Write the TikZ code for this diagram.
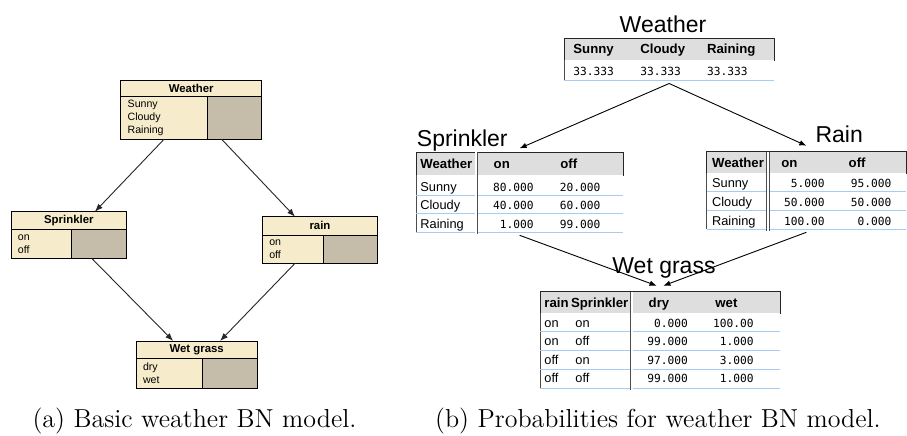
\documentclass[tikz,border=0pt]{standalone}
\usepackage{fontspec}
\newfontfamily\dsans{Liberation Sans}
\newfontfamily\dmono{DejaVu Sans Mono}
\usetikzlibrary{arrows.meta}
\definecolor{bncream}{RGB}{246,236,204}
\definecolor{bngray}{RGB}{197,188,170}
\definecolor{cpthdr}{RGB}{222,222,222}
\definecolor{cptblue}{RGB}{168,204,240}

\begin{document}
\begin{tikzpicture}[x=0.5pt,y=-0.5pt]
\tikzstyle{bnhead}=[draw=black,line width=0.5pt,fill=bncream,inner sep=0pt,outer sep=0pt,anchor=north west,font=\dsans\bfseries\fontsize{5.7}{6}\selectfont]
\tikzstyle{bnstates}=[draw=black,line width=0.5pt,fill=bncream,inner xsep=3.5pt,inner ysep=0pt,outer sep=0pt,anchor=north west,align=left,font=\dsans\fontsize{5.3}{6.5}\selectfont]
\tikzstyle{bnbar}=[draw=black,line width=0.5pt,fill=bngray,inner sep=0pt,outer sep=0pt,anchor=north west]
\tikzstyle{bnarrow}=[line width=0.45pt,draw=black!85,-{Latex[length=4pt,width=3pt]}]
\tikzstyle{cpthead}=[draw=black!85,line width=0.5pt,fill=cpthdr,inner sep=0pt,outer sep=0pt,anchor=north west]
\tikzstyle{cptbody}=[fill=white,inner sep=0pt,outer sep=0pt,anchor=north west]
\tikzstyle{colname}=[font=\dsans\bfseries\fontsize{6.6}{7}\selectfont,inner sep=0pt,text height=5pt,text depth=0.5pt,anchor=west]
\tikzstyle{rowname}=[font=\dsans\fontsize{6.4}{7}\selectfont,inner sep=0pt,text height=5pt,text depth=0.5pt,anchor=west]
\tikzstyle{cptval}=[font=\dmono\fontsize{5.6}{6}\selectfont,inner sep=0pt,text height=5pt,text depth=0.5pt,anchor=east]
\tikzstyle{cptrule}=[draw=cptblue,line width=0.5pt]
\tikzstyle{cptedge}=[draw=black!70,line width=0.5pt]
\tikzstyle{cptsplit}=[draw=black!70,line width=0.4pt,double=white,double distance=0.9pt]
\tikzstyle{cpttitle}=[font=\dsans\fontsize{11.5}{12}\selectfont,inner sep=0pt,text height=8.5pt,text depth=0.3pt]
\tikzstyle{cptarrow}=[line width=0.45pt,draw=black,-{Latex[length=3.5pt,width=2.8pt]}]
\tikzstyle{caption}=[font=\fontsize{13}{15}\selectfont,inner sep=0pt,anchor=base]
\useasboundingbox (0,0) rectangle (907,435);

\foreach \name/\point/\wh/\ws/\wp/\hh/\hb/\title/\states in {
	weather/{120.7,80}/70.5/36.3/27.2/8.35/21.3/Weather/{Sunny\\Cloudy\\Raining},
	sprinkler/{11,211.7}/57.85/23.35/27.5/8.8/14.5/Sprinkler/{on\\off},
	rain/{262.3,216.7}/57.7/23.5/27.2/9.15/14.15/rain/{on\\off},
	wetgrass/{136,341}/60.65/26.35/27.3/8.65/15/Wet grass/{dry\\wet}}
{
	\node[bnhead,minimum width=\wh pt,minimum height=\hh pt] (\name) at (\point) {\title};
	\node[bnstates,text width=\ws pt,minimum height=\hb pt] (\name S) at (\name.south west) {\states};
	\node[bnbar,minimum width=\wp pt,minimum height=\hb pt] (\name P) at (\name S.north east) {};
}
\draw[bnarrow] (weatherS.south) -- ([xshift=13pt]sprinkler.north);
\draw[bnarrow] ([xshift=-6.4pt]weatherP.south) -- ([xshift=-12.5pt]rain.north);
\draw[bnarrow] ([xshift=-3.75pt]sprinklerP.south) -- ([xshift=-11.7pt]wetgrass.north);
\draw[bnarrow] ([xshift=1.1pt]rainS.south) -- ([xshift=11.7pt]wetgrass.north);

\node[cpttitle] (wTitle) at (663,24.2) {Weather};
\node[cpthead,minimum width=104.85pt,minimum height=11pt] (wHead) at (564.3,38) {};
\node[cptbody,minimum width=104.85pt,minimum height=10.25pt] (wBody) at (wHead.south west) {};
\draw[cptedge] (wBody.north west) -- (wBody.south west);
\draw[cptrule] (wBody.south west) -- (wBody.south east);
\foreach \x/\state in {573/Sunny,640/Cloudy,706.7/Raining}{
	\node[colname] at (\x,49) {\state};
	\node[cptval,anchor=west] at (\x,70.5) {33.333};
}

\node[cpttitle] (sTitle) at (462.3,138.3) {Sprinkler};
\node[cpthead,minimum width=103.65pt,minimum height=11.35pt] (sHead) at (416,152.3) {};
\node[cptbody,minimum width=103.65pt,minimum height=28.65pt] (sBody) at (sHead.south west) {};
\draw[cptedge] (sBody.north west) -- (sBody.south west);
\foreach \y in {195,213.3,232.3}
	\draw[cptrule] (416,\y) -- (623.3,\y);
\draw[cptsplit] (476.3,152.3) -- (476.3,234);
\node[colname] at (420,163.7) {Weather};
\node[colname] at (493.3,163.7) {on};
\node[colname] at (560,163.7) {off};
\foreach \rowy/\state/\pon/\poff in {186.7/Sunny/80.000/20.000, 205/Cloudy/40.000/60.000, 224/Raining/1.000/99.000}{
	\node[rowname] at (420,\rowy) {\state};
	\node[cptval] at (534,\rowy) {\pon};
	\node[cptval] at (600.7,\rowy) {\poff};
}

\node[cpttitle] (rTitle) at (839.2,134.2) {Rain};
\node[cpthead,minimum width=99.65pt,minimum height=10.8pt] (rHead) at (706.7,151.7) {};
\node[cptbody,minimum width=99.65pt,minimum height=28pt] (rBody) at (rHead.south west) {};
\draw[cptedge] (rBody.north west) -- (rBody.south west);
\foreach \y in {191.7,210.7,229.3}
	\draw[cptrule] (706.7,\y) -- (906,\y);
\draw[cptsplit] (768,151.7) -- (768,231);
\node[colname] at (711.7,162.5) {Weather};
\node[colname] at (781,162.5) {on};
\node[colname] at (848.3,162.5) {off};
\foreach \rowy/\state/\pon/\poff in {183.3/Sunny/5.000/95.000, 201.7/Cloudy/50.000/50.000, 220.7/Raining/100.00/0.000}{
	\node[rowname] at (711.7,\rowy) {\state};
	\node[cptval] at (825,\rowy) {\pon};
	\node[cptval] at (891.7,\rowy) {\poff};
}

\node[cpttitle] (gTitle) at (664,265) {Wet grass};
\node[cpthead,minimum width=120pt,minimum height=10.8pt] (gHead) at (540,291.7) {};
\node[cptbody,minimum width=120pt,minimum height=37.5pt] (gBody) at (gHead.south west) {};
\draw[cptedge] (gBody.north west) -- (gBody.south west);
\foreach \y in {331.7,350,369.3,388.3}
	\draw[cptrule] (540,\y) -- (780,\y);
\draw[cptsplit] (631.7,291.7) -- (631.7,390);
\node[colname] at (544,302.5) {rain};
\node[colname] at (570.7,302.5) {Sprinkler};
\node[colname] at (648.3,302.5) {dry};
\node[colname] at (715,302.5) {wet};
\foreach \rowy/\rrain/\rspr/\pdry/\pwet in {322.7/on/on/0.000/100.00, 341/on/off/99.000/1.000, 359.7/off/on/97.000/3.000, 378/off/off/99.000/1.000}{
	\node[rowname] at (544,\rowy) {\rrain};
	\node[rowname] at (575,\rowy) {\rspr};
	\node[cptval] at (688.3,\rowy) {\pdry};
	\node[cptval] at (754,\rowy) {\pwet};
}

\draw[cptarrow] ([yshift=-1.5pt]wBody.south) -- ([yshift=2pt]sHead.north);
\draw[cptarrow] ([yshift=-1.5pt]wBody.south) -- ([yshift=3pt]rHead.north);
\draw[cptarrow] ([yshift=-1.5pt]sBody.south) -- ([xshift=-1.7pt,yshift=3pt]gHead.north);
\draw[cptarrow] ([yshift=-1.5pt]rBody.south) -- ([xshift=1.7pt,yshift=3pt]gHead.north);

\node[caption] (capA) at (194.5,427.5) {(a) Basic weather BN model.};
\node[caption] (capB) at (658,427.5) {(b) Probabilities for weather BN model.};
\end{tikzpicture}
\end{document}
